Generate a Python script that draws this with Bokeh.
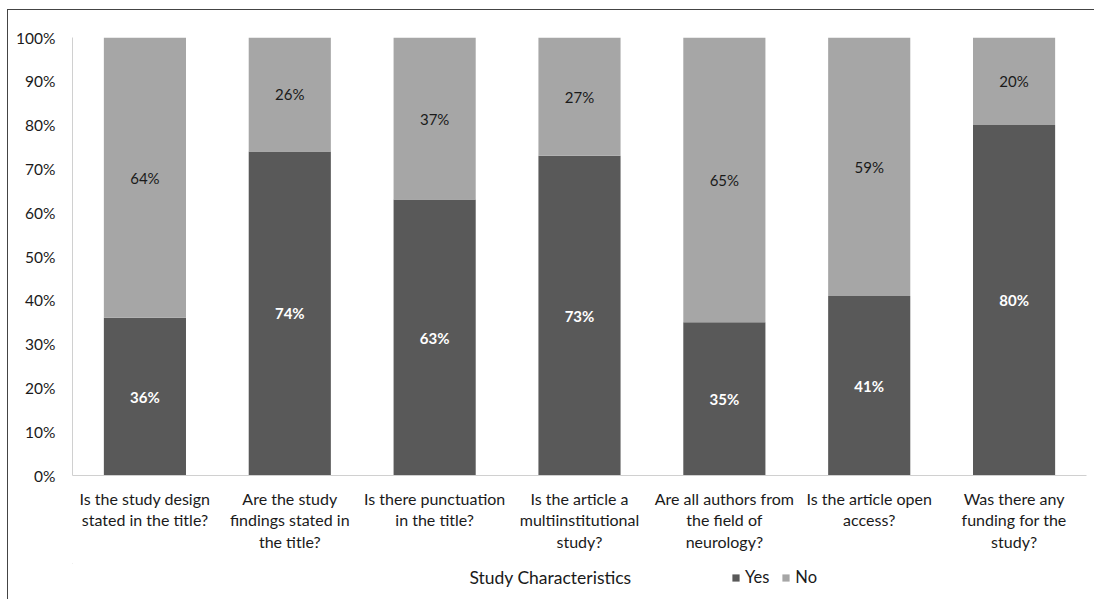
from bokeh.plotting import figure
from bokeh.layouts import column
from bokeh.models import ColumnDataSource, FixedTicker, Legend, LegendItem, Label
from bokeh.core.properties import value
from bokeh.embed import file_html
from bokeh.resources import INLINE

categories = [
    "Is the study design\nstated in the title?",
    "Are the study\nfindings stated in\nthe title?",
    "Is there punctuation\nin the title?",
    "Is the article a\nmultiinstitutional\nstudy?",
    "Are all authors from\nthe field of\nneurology?",
    "Is the article open\naccess?",
    "Was there any\nfunding for the\nstudy?",
]
yes_vals = [36, 74, 63, 73, 35, 41, 80]
no_vals = [64, 26, 37, 27, 65, 59, 20]
y_ticks = [0, 10, 20, 30, 40, 50, 60, 70, 80, 90, 100]
x_title = "Study Characteristics"

FONT = "Lato"
YES_C = "#595959"
NO_C = "#a6a6a6"
TXT = "#1a1a1a"

src = ColumnDataSource(dict(
    cat=categories,
    Yes=yes_vals,
    No=no_vals,
    yes_mid=[y / 2 for y in yes_vals],
    no_mid=[y + n / 2 for y, n in zip(yes_vals, no_vals)],
    yes_txt=[f"{v}%" for v in yes_vals],
    no_txt=[f"{v}%" for v in no_vals],
))

p = figure(x_range=categories, y_range=(0, 100), width=1086, height=553,
           output_backend="svg", toolbar_location=None,
           min_border_left=64, min_border_right=8, min_border_top=27, min_border_bottom=88)
p.outline_line_color = None
p.xgrid.grid_line_color = None
p.ygrid.grid_line_color = None

r = p.vbar_stack(["Yes", "No"], x="cat", width=0.567, color=[YES_C, NO_C],
                 line_color=None, source=src)

p.text(x="cat", y="yes_mid", text="yes_txt", source=src, text_align="center",
       text_baseline="middle", text_color="white", text_font=value(FONT),
       text_font_size="15px", text_font_style="bold")
p.text(x="cat", y="no_mid", text="no_txt", source=src, text_align="center",
       text_baseline="middle", text_color="#1a1a1a", text_font=value(FONT),
       text_font_size="15px")

p.yaxis.ticker = FixedTicker(ticks=y_ticks)
p.yaxis.major_label_overrides = {t: f"{t}%" for t in y_ticks}
p.yaxis.major_tick_line_color = None
p.yaxis.minor_tick_line_color = None
p.yaxis.axis_line_color = "#d0d0d0"
p.yaxis.major_label_text_font = FONT
p.yaxis.major_label_text_font_size = "15.5px"
p.yaxis.major_label_text_color = TXT
p.yaxis.major_label_standoff = 11

p.xaxis.major_tick_line_color = None
p.xaxis.axis_line_color = "#d0d0d0"
p.xaxis.major_label_text_font = FONT
p.xaxis.major_label_text_font_size = "16px"
p.xaxis.major_label_text_color = TXT
p.xaxis.major_label_standoff = 7
p.xaxis.major_label_text_line_height = 1.15

# footer strip holding the axis title and the legend (its frame aligns with the main frame)
f = figure(x_range=(0, 1014), y_range=(0, 36), width=1086, height=36,
           output_backend="svg", toolbar_location=None,
           min_border_left=64, min_border_right=8, min_border_top=0, min_border_bottom=0)
f.axis.visible = False
f.grid.grid_line_color = None
f.outline_line_color = None
ly = f.vbar(x=[-500], bottom=[500], top=[501], width=1, color=YES_C, line_color=None)
ln = f.vbar(x=[-500], bottom=[500], top=[501], width=1, color=NO_C, line_color=None)

f.add_layout(Label(x=478, y=22, text=x_title, text_align="center", text_baseline="middle",
                   text_font=FONT, text_font_size="17.5px", text_color=TXT))
legend = Legend(items=[LegendItem(label="Yes", renderers=[ly]),
                       LegendItem(label="No", renderers=[ln])],
                location=(659, 12), orientation="horizontal",
                label_text_font=FONT, label_text_font_size="16.5px",
                label_text_color=TXT, glyph_width=9, glyph_height=9,
                label_standoff=5, spacing=12, padding=0, margin=0,
                background_fill_alpha=0, border_line_color=None)
f.add_layout(legend, "center")

layout = column(p, f, spacing=0,
                styles={"margin-left": "7px", "margin-top": "9px",
                        "border-left": "1.5px solid #444", "border-top": "1.5px solid #444"})

open("out.html", "w").write(file_html(layout, INLINE))
